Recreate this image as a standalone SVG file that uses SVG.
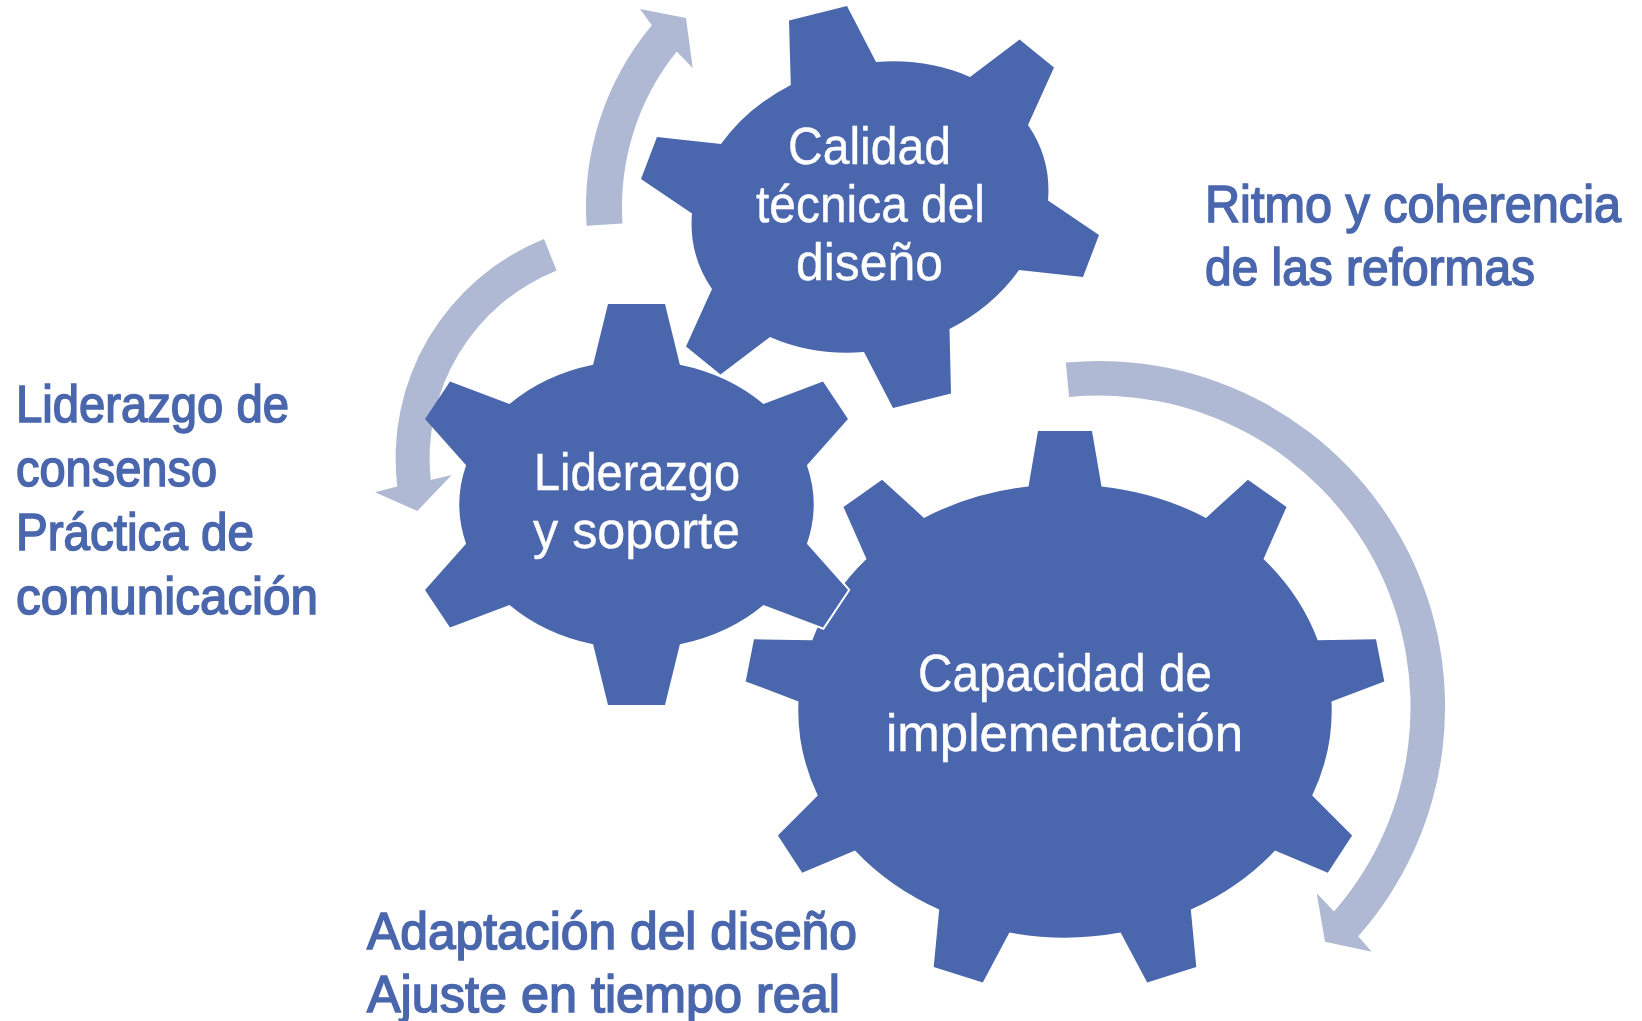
<svg xmlns="http://www.w3.org/2000/svg" xmlns:xlink="http://www.w3.org/1999/xlink" width="1642" height="1021" viewBox="0 0 1642 1021">
<style>
.gear{fill:#4A67AD;}
.gear-halo{fill:#FFFFFF;stroke:#FFFFFF;stroke-width:4;stroke-linejoin:miter;}
.arrow{fill:#B0B9D4;}
.gtxt{font-family:"Liberation Sans",Arial,sans-serif;font-size:52px;fill:#FFFFFF;stroke:#FFFFFF;stroke-width:0.4px;}
.otxt{font-family:"Liberation Sans",Arial,sans-serif;font-size:52px;fill:#4A67AD;stroke:#4A67AD;stroke-width:1.6px;}
</style>
<defs>
<clipPath id="overlapClip"><rect x="500" y="280" width="400" height="450"/></clipPath>
<path id="gearLiderazgo" d="M 593.1,364.8 L 608,304 L 665,304 L 679.9,364.8 A 177 144 0 0 1 763.5,404.1 L 823,381.5 L 848,419 L 806.9,465.2 A 177 144 0 0 1 806.9,543.8 L 848,590 L 823,627.5 L 763.5,604.9 A 177 144 0 0 1 679.9,644.2 L 665,705 L 608,705 L 593.1,644.2 A 177 144 0 0 1 509.5,604.9 L 450,627.5 L 425,590 L 466.1,543.8 A 177 144 0 0 1 466.1,465.2 L 425,419 L 450,381.5 L 509.5,404.1 A 177 144 0 0 1 593.1,364.8 Z"/>
</defs>
<g id="connectors">
<path id="arrow-top" class="arrow" d="M 586.6,225.8 A 284 284 0 0 1 651.8,25.2 L 640,9 L 686,18 L 692.7,68 L 676.7,51.6 A 248 248 0 0 0 622.5,223.4 Z"/>
<path id="arrow-left" class="arrow" d="M 544,239.1 A 236 236 0 0 0 397.3,486.5 L 375,492.3 L 417.3,511 L 451.7,475 L 430.8,480 A 202 202 0 0 1 556.6,270.6 Z"/>
<path id="arrow-right" class="arrow" d="M 1065.8,362.6 A 346 346 0 0 1 1358.2,936.3 L 1371.7,951.7 L 1325,941.7 L 1316.7,893.3 L 1334.1,911.4 A 311.5 311.5 0 0 0 1069.1,396.9 Z"/>
</g>
<g id="gear-implementacion">
<path class="gear" d="M 1028.5,486.5 L 1038,431 L 1092,431 L 1101.5,486.5 A 266 226.5 0 0 1 1206,517.9 L 1247.9,479.7 L 1286.5,507 L 1263.5,559 A 266 226.5 0 0 1 1317.7,640.2 L 1376,639.3 L 1384.3,681.4 L 1331.5,701.4 A 266 226.5 0 0 1 1312.2,795.5 L 1352.1,835.4 L 1327.8,872.8 L 1275,850.6 A 266 226.5 0 0 1 1190.8,909.6 L 1196.3,966.9 L 1147.2,982.5 L 1120.6,932.6 A 266 226.5 0 0 1 1009.4,932.6 L 982.8,982.5 L 933.7,966.9 L 939.2,909.6 A 266 226.5 0 0 1 855,850.6 L 802.2,872.8 L 777.9,835.4 L 817.8,795.5 A 266 226.5 0 0 1 798.5,701.4 L 745.7,681.4 L 754,639.3 L 812.3,640.2 A 266 226.5 0 0 1 866.5,559 L 843.5,507 L 882.1,479.7 L 924,517.9 A 266 226.5 0 0 1 1028.5,486.5 Z"/>
<text class="gtxt" x="918" y="691" textLength="294" lengthAdjust="spacingAndGlyphs">Capacidad de</text>
<text class="gtxt" x="886" y="751" textLength="357" lengthAdjust="spacingAndGlyphs">implementación</text>
</g>
<g id="gear-calidad">
<path class="gear" d="M 790.8,85 L 789,20.5 L 847,6 L 876,62 A 180.5 143 -15 0 1 970,77 L 1019.5,39.5 L 1054,67.5 L 1028,125 A 180.5 143 -15 0 1 1048,200.5 L 1099,235 L 1083,277 L 1019,270 A 180.5 143 -15 0 1 949.5,329 L 951,393.5 L 893,408 L 864,352 A 180.5 143 -15 0 1 770,337 L 720.5,374.5 L 686,346.5 L 712,289 A 180.5 143 -15 0 1 692,213.5 L 641,179 L 657,137 L 721,144 A 180.5 143 -15 0 1 790.8,85 Z"/>
<text class="gtxt" x="788" y="164" textLength="163" lengthAdjust="spacingAndGlyphs">Calidad</text>
<text class="gtxt" x="756" y="222" textLength="229" lengthAdjust="spacingAndGlyphs">técnica del</text>
<text class="gtxt" x="796" y="280" textLength="147" lengthAdjust="spacingAndGlyphs">diseño</text>
</g>
<g id="gear-liderazgo">
<use xlink:href="#gearLiderazgo" class="gear-halo" clip-path="url(#overlapClip)"/>
<use xlink:href="#gearLiderazgo" class="gear"/>
<text class="gtxt" x="534" y="490" textLength="206" lengthAdjust="spacingAndGlyphs">Liderazgo</text>
<text class="gtxt" x="533" y="548" textLength="207" lengthAdjust="spacingAndGlyphs">y soporte</text>
</g>
<g id="label-left">
<text class="otxt" x="16" y="422" textLength="273" lengthAdjust="spacingAndGlyphs">Liderazgo de</text>
<text class="otxt" x="16" y="486" textLength="201" lengthAdjust="spacingAndGlyphs">consenso</text>
<text class="otxt" x="16" y="549.5" textLength="238" lengthAdjust="spacingAndGlyphs">Práctica de</text>
<text class="otxt" x="16" y="613.5" textLength="302" lengthAdjust="spacingAndGlyphs">comunicación</text>
</g>
<g id="label-right">
<text class="otxt" x="1205" y="222" textLength="416" lengthAdjust="spacingAndGlyphs">Ritmo y coherencia</text>
<text class="otxt" x="1205" y="285" textLength="330" lengthAdjust="spacingAndGlyphs">de las reformas</text>
</g>
<g id="label-bottom">
<text class="otxt" x="367" y="948.5" textLength="490" lengthAdjust="spacingAndGlyphs">Adaptación del diseño</text>
<text class="otxt" x="367" y="1012" textLength="473" lengthAdjust="spacingAndGlyphs">Ajuste en tiempo real</text>
</g>
</svg>
